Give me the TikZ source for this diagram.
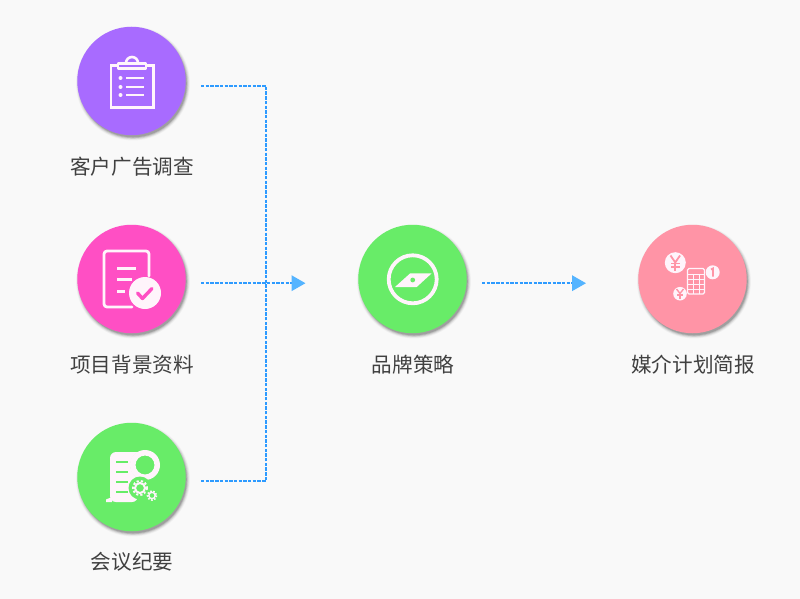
\documentclass[tikz,border=0pt]{standalone}
\usepackage{fontspec}
\newfontfamily\cjk{Noto Sans CJK SC}
\usetikzlibrary{arrows.meta}
\definecolor{bgc}{HTML}{F9F9F9}
\definecolor{cpurple}{HTML}{A86BFF}
\definecolor{cpink}{HTML}{FF4FC4}
\definecolor{cgreen}{HTML}{68EC68}
\definecolor{csalmon}{HTML}{FF94A6}
\definecolor{linkblue}{HTML}{2E9BFF}
\definecolor{tipblue}{HTML}{55B4FF}
\definecolor{txt}{HTML}{404040}
\definecolor{icowhite}{HTML}{FFF4FB}
\tikzset{
  x=1pt,y=-1pt,
  disc/.style={circle,minimum size=108.5pt,inner sep=0pt,outer sep=0pt,fill=#1},
  lbl/.style={font=\cjk\fontsize{20.6pt}{24pt}\selectfont,text=txt,inner sep=0pt,anchor=center},
  link/.style={draw=linkblue,line width=1.8pt,dash pattern=on 3.4pt off 1.3pt},
  tipped/.style={link,-{Triangle[length=14pt,width=15.5pt,color=tipblue,fill=tipblue]}},
  ico/.style={draw=icowhite,line width=#1,fill=none,line cap=round,line join=round},
  ico/.default=2.6pt,
}
\newcommand{\softshadow}[2]{%
  \foreach \rr/\op in {57/.03,56.2/.05,55.4/.08,54.6/.11,53.8/.14}{
    \fill[black,opacity=\op] (#1+1.5,#2+2.5) circle[radius=\rr];
  }}
\newcommand{\flatbar}[5]{\fill[#5] (#1,#3-#4/2) rectangle (#2,#3+#4/2);}
\begin{document}
\begin{tikzpicture}
\useasboundingbox[fill=bgc] (0,0) rectangle (800,599);
\softshadow{131.5}{81}
\softshadow{131.5}{279}
\softshadow{131.5}{477}
\softshadow{412.5}{279}
\softshadow{692.5}{279}
\node[disc=cpurple] (a) at (131.5,81) {};
\node[disc=cpink] (b) at (131.5,279) {};
\node[disc=cgreen] (c) at (131.5,477) {};
\node[disc=cgreen] (d) at (412.5,279) {};
\node[disc=csalmon] (e) at (692.5,279) {};
\node[lbl] (la) at (132,167) {客户广告调查};
\node[lbl] (lb) at (132,365) {项目背景资料};
\node[lbl] (lc) at (132,562) {会议纪要};
\node[lbl] (ld) at (413,365) {品牌策略};
\node[lbl] (le) at (693,365) {媒介计划简报};
\coordinate (aout) at (201,86);
\coordinate (bout) at (201,283.2);
\coordinate (cout) at (201,481);
\coordinate (dout) at (482,283.2);
\coordinate (join) at (266,283.2);
\coordinate (din) at (305.5,283.2);
\coordinate (ein) at (586,283.2);
\draw[link] (aout) -| (join);
\draw[link] (cout) -| (join);
\draw[tipped] (bout) -- (din);
\draw[tipped] (dout) -- (ein);
% icon: clipboard
\draw[ico=2.6pt,line cap=butt,line join=miter] (117,65.5) -- (111,65.5) -- (111,107.5) -- (153.5,107.5) -- (153.5,65.5) -- (146,65.5);
\draw[ico=2.6pt] (118,63.5) rectangle (146,68.5);
\draw[ico=2.6pt] (126,63) arc[start angle=180,end angle=360,radius=6];
\foreach \yy in {78,87,95}{
  \fill[icowhite] (120.5,\yy) circle[radius=2];
  \flatbar{125.5}{144}{\yy}{2.4}{icowhite}
}
% icon: document with check
\draw[ico=2.8pt,rounded corners=3pt] (132,307) -- (104,307) -- (104,251) -- (149,251) -- (149,276);
\flatbar{117}{136}{268}{3}{icowhite}
\flatbar{117}{132}{279}{3}{icowhite}
\flatbar{117}{125}{291}{3}{icowhite}
\fill[icowhite] (145,293) circle[radius=16];
\draw[cpink,line width=3.4pt,line cap=round,line join=round] (137.5,293) -- (142.5,298.5) -- (152,288.5);
% icon: document with gears
\fill[icowhite,rounded corners=6pt] (110,502) -- (110,452) -- (146,452) -- (146,478) -- (138,478) -- (138,502) -- cycle;
\fill[icowhite] (106,502) -- (106,499.5) -- (112,497) -- (112,502) -- cycle;
\foreach \yy in {462,472,482,492}{
  \flatbar{116}{128}{\yy}{2.4}{cgreen}
}
\fill[cgreen] (145,465) circle[radius=14.5];
\fill[icowhite,even odd rule] (145,465) circle[radius=15] circle[radius=9.5];
\fill[cgreen] (140,488) circle[radius=11.5];
\draw[icowhite,line width=2pt] (140,488) circle[radius=5];
\draw[icowhite,line width=2pt,dash pattern=on 2.2pt off 2pt] (140,488) circle[radius=7];
\fill[cgreen] (152,495.5) circle[radius=7];
\draw[icowhite,line width=1.4pt] (152,495.5) circle[radius=3.2];
\draw[icowhite,line width=1.6pt,dash pattern=on 1.6pt off 1.6pt] (152,495.5) circle[radius=4.6];
% icon: compass
\draw[draw=icowhite,line width=3.8pt] (412.7,279.3) circle[radius=24];
\fill[icowhite] (395,287) -- (410,273.5) -- (431.7,273.3) -- (416.7,287) -- cycle;
\fill[cgreen] (412.7,280) circle[radius=2.4];
% icon: coins and calculator
\fill[icowhite] (675.3,262.7) circle[radius=10.5];
\fill[icowhite] (712.7,272.3) circle[radius=7];
\fill[icowhite] (680,293.7) circle[radius=6.8];
\begin{scope}[draw=csalmon,line width=1.8pt]
  \draw (670.5,255.5) -- (675.3,262.5) -- (680,255.5);
  \draw (675.3,262.5) -- (675.3,266) -- (675.3,271);
  \flatbar{671}{679.6}{263.5}{1.6}{csalmon}
  \flatbar{671}{679.6}{267}{1.6}{csalmon}
  \draw[line width=1.4pt] (676.5,289) -- (680,293.5) -- (683.5,289);
  \draw[line width=1.4pt] (680,293.5) -- (680,296) -- (680,299);
  \flatbar{677}{683}{295}{1.3}{csalmon}
  \draw[line width=1.9pt] (711,269.5) -- (713,268.5) -- (713,276.5);
\end{scope}
\draw[icowhite,line width=1.3pt,rounded corners=1.5pt] (687.5,268.5) rectangle (704.5,294);
\foreach \yy in {274,279,284,289}{\fill[icowhite] (687.5,\yy-.5) rectangle (704.5,\yy+.5);}
\foreach \xx in {693,699}{\fill[icowhite] (\xx-.5,274) rectangle (\xx+.5,294);}
\end{tikzpicture}
\end{document}
